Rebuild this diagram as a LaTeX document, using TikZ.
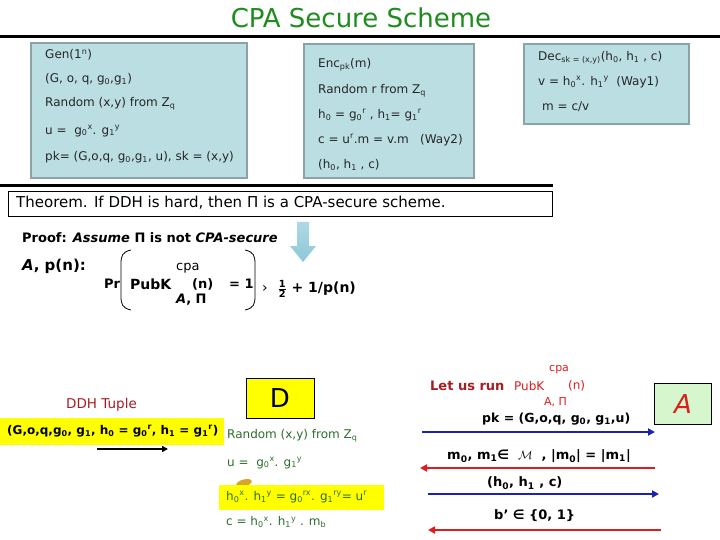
\documentclass[tikz,border=0pt]{standalone}
\usepackage{fontspec}
\setmainfont{DejaVu Sans}
\usetikzlibrary{arrows.meta,shapes.geometric}
\definecolor{boxfill}{RGB}{186,222,226}
\definecolor{boxline}{RGB}{140,162,170}
\definecolor{titlegreen}{RGB}{30,140,30}
\definecolor{dgreen}{RGB}{45,110,45}
\definecolor{dred}{RGB}{165,30,35}
\definecolor{rred}{RGB}{220,30,30}
\definecolor{bblue}{RGB}{25,35,175}
\definecolor{agreen}{RGB}{214,246,206}
\definecolor{arrowblue}{RGB}{140,200,216}
\definecolor{hl}{RGB}{255,255,0}
\newcommand\sbs[1]{\textsubscript{#1}}
\newcommand\sps[1]{\textsuperscript{#1}}
\tikzset{
  schemebox/.style={draw=boxline, line width=2.5pt, fill=boxfill},
  txt/.style={anchor=west, inner sep=0pt, font=\fontsize{12}{14}\selectfont, text=black!85},
  gtxt/.style={anchor=west, inner sep=0pt, font=\fontsize{12}{14}\selectfont, text=dgreen},
  btxt/.style={anchor=west, inner sep=0pt, font=\fontsize{13}{15}\selectfont\bfseries},
  bluearrow/.style={draw=bblue, line width=2.5pt, -{Triangle[length=7pt,width=7pt]}},
  redarrow/.style={draw=rred, line width=2.5pt, -{Triangle[length=7pt,width=7pt]}},
  blackarrow/.style={draw=black, line width=2.5pt, -{Triangle[length=6pt,width=6pt]}},
  paren/.style={draw=black, line width=0.8pt}
}
\begin{document}
\begin{tikzpicture}[x=1pt,y=-1pt]
\useasboundingbox (0,0) rectangle (720,540);
\fill[white] (0,0) rectangle (720,540);
% title
\node[inner sep=0pt, text=titlegreen, font=\fontsize{26}{30}\selectfont] (title) at (361,18) {CPA Secure Scheme};
\draw[line width=3pt] (0,37) -- (720,37);
% boxes
\draw[schemebox] (31,43) rectangle (247,178);
\draw[schemebox] (304,44) rectangle (474,178);
\draw[schemebox] (524,44) rectangle (689,124);
\node[txt] (g1) at (45,55) {Gen(1\sps{n})};
\node[txt] (g2) at (45,79) {(G, o, q, g\sbs{0},g\sbs{1})};
\node[txt] (g3) at (45,104) {Random (x,y) from Z\sbs{q}};
\node[txt] (g4) at (45,131) {u = \ g\sbs{0}\sps{x}. g\sbs{1}\sps{y}};
\node[txt] (g5) at (45,157) {pk= (G,o,q, g\sbs{0},g\sbs{1}, u), sk = (x,y)};
\node[txt] (e1) at (318,65) {Enc\sbs{pk}(m)};
\node[txt] (e2) at (318,91) {Random r from Z\sbs{q}};
\node[txt] (e3) at (318,115) {h\sbs{0} = g\sbs{0}\sps{r} , h\sbs{1}= g\sbs{1}\sps{r}};
\node[txt] (e4) at (318,140) {c = u\sps{r}.m = v.m \ \ (Way2)};
\node[txt] (e5) at (318,165) {(h\sbs{0}, h\sbs{1} , c)};
\node[txt] (d1) at (538,58) {Dec\sbs{sk = (x,y)}(h\sbs{0}, h\sbs{1} , c)};
\node[txt] (d2) at (538,82) {v = h\sbs{0}\sps{x}. h\sbs{1}\sps{y} \ (Way1)};
\node[txt] (d3) at (542,107) {m = c/v};
% theorem
\draw[line width=3pt] (0,186) -- (553,186);
\draw[line width=0.8pt] (8,191) rectangle (552,216);
\node[anchor=west, inner sep=0pt, font=\fontsize{15}{17}\selectfont] (thm) at (16,203) {Theorem. If DDH is hard, then Π is a CPA-secure scheme.};
% proof
\node[anchor=west, inner sep=0pt, font=\fontsize{13}{15}\selectfont\bfseries] (proof) at (22,238) {Proof: \textit{Assume} Π is not \textit{CPA-secure}};
\shade[top color=arrowblue!70, bottom color=arrowblue, draw=none] (297,222) -- (309,222) -- (309,246) -- (316,246) -- (303,262) -- (290,246) -- (297,246) -- cycle;
\node[btxt, font=\fontsize{15}{17}\selectfont\bfseries] (ap) at (22,266) {\textit{A}, p(n):};
\node[btxt] (pr) at (104,284) {Pr};
\draw[paren] (131,250) .. controls (122,252) and (121,256) .. (121,264) -- (121,296) .. controls (121,304) and (122,308) .. (131,310);
\draw[paren] (245,250) .. controls (254,252) and (255,256) .. (255,264) -- (255,296) .. controls (255,304) and (254,308) .. (245,310);
\node[btxt, font=\fontsize{14}{16}\selectfont\bfseries] (pubk) at (130,284) {PubK};
\node[anchor=west, inner sep=0pt, font=\fontsize{13}{15}\selectfont] (cpa) at (176,268) {cpa};
\node[btxt] (n1) at (192,284) {(n)};
\node[btxt] (eq1) at (229,284) {= 1};
\node[btxt] (api) at (176,300) {\textit{A}, Π};
\node[anchor=west, inner sep=0pt, font=\fontsize{14}{16}\selectfont\bfseries] (gt) at (262,289) {\textmd{›} \ $\frac{\mathbf 1}{\mathbf 2}$ + 1/p(n)};
% D part
\node[draw=black, line width=0.8pt, fill=hl, minimum width=68pt, minimum height=40pt, inner sep=0pt, font=\fontsize{26}{30}\selectfont] (D) at (280,398) {D};
\node[anchor=west, inner sep=0pt, text=dred, font=\fontsize{13.5}{15}\selectfont] (ddh) at (66,405) {DDH Tuple};
\node[fill=hl, minimum width=224pt, minimum height=27pt, inner sep=0pt] (tuplebg) at (112,431) {};
\node[anchor=west, inner sep=0pt, font=\fontsize{12}{14}\selectfont\bfseries] (tuple) at (7,431) {(G,o,q,g\sbs{0}, g\sbs{1}, h\sbs{0} = g\sbs{0}\sps{r}, h\sbs{1} = g\sbs{1}\sps{r})};
\coordinate (ta) at (97,449);
\coordinate (tb) at (168,449);
\draw[blackarrow] (ta) -- (tb);
\node[gtxt] (r1) at (227,436) {Random (x,y) from Z\sbs{q}};
\node[gtxt] (r2) at (227,463) {u = \ g\sbs{0}\sps{x}. g\sbs{1}\sps{y}};
\fill[rotate around={15:(244,483)}, color={rgb,255:red,215;green,165;blue,40}] (244,483) ellipse (8pt and 3.5pt);
\node[fill=hl, minimum width=165pt, minimum height=25pt, inner sep=0pt] (hlbg) at (301,497) {};
\node[gtxt] (r3) at (226,497) {h\sbs{0}\sps{x}. h\sbs{1}\sps{y} = g\sbs{0}\sps{rx}. g\sbs{1}\sps{ry}= u\sps{r}};
\node[gtxt] (r4) at (226,522) {c = h\sbs{0}\sps{x}. h\sbs{1}\sps{y} . m\sbs{b}};
% right side
\node[anchor=west, inner sep=0pt, text=dred, font=\fontsize{13}{15}\selectfont\bfseries] (letus) at (430,386) {Let us run};
\node[anchor=west, inner sep=0pt, text=rred, font=\fontsize{12}{14}\selectfont] (pubk2) at (514,386) {PubK};
\node[anchor=west, inner sep=0pt, text=rred, font=\fontsize{11}{13}\selectfont] (cpa2) at (549,370) {cpa};
\node[anchor=west, inner sep=0pt, text=rred, font=\fontsize{12}{14}\selectfont] (n2) at (568,386) {(n)};
\node[anchor=west, inner sep=0pt, text=rred, font=\fontsize{11}{13}\selectfont] (api2) at (544,402) {A, Π};
\node[draw=black, line width=0.8pt, fill=agreen, minimum width=57pt, minimum height=41pt, inner sep=0pt, text=rred, font=\fontsize{26}{30}\selectfont\itshape] (A) at (683,404) {A};
\node[btxt, font=\fontsize{12.5}{15}\selectfont\bfseries] (pk) at (482,419) {pk = (G,o,q, g\sbs{0}, g\sbs{1},u)};
\coordinate (a1s) at (422,432);
\coordinate (a1e) at (655,432);
\draw[bluearrow] (a1s) -- (a1e);
\node[btxt] (mm) at (447,456) {m\sbs{0}, m\sbs{1}∈ \ $\mathcal{M}$ \ , |m\sbs{0}| = |m\sbs{1}|};
\coordinate (a2s) at (655,468);
\coordinate (a2e) at (420,468);
\draw[redarrow] (a2s) -- (a2e);
\node[btxt] (hc) at (487,483) {(h\sbs{0}, h\sbs{1} , c)};
\coordinate (a3s) at (428,494);
\coordinate (a3e) at (659,494);
\draw[bluearrow] (a3s) -- (a3e);
\node[btxt] (bp) at (494,516) {b’ ∈ \{0, 1\}};
\coordinate (a4s) at (661,530);
\coordinate (a4e) at (428,530);
\draw[redarrow] (a4s) -- (a4e);
\end{tikzpicture}
\end{document}
